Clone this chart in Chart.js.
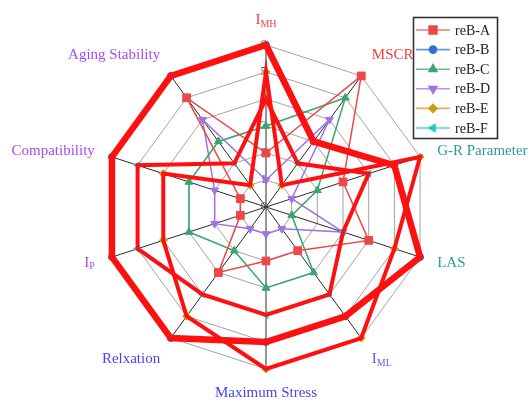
<!DOCTYPE html>
<html>
<head>
<meta charset="utf-8">
<script src="https://cdn.jsdelivr.net/npm/chart.js@4.4.0/dist/chart.umd.min.js"></script>
<style>
  html, body { margin: 0; padding: 0; background: #fff; }
  #wrap { width: 532px; height: 403px; }
</style>
</head>
<body>
<div id="wrap"><canvas id="radar_chart_canvas" width="532" height="403"></canvas></div>
<script>
// axes, clockwise from the top; text after "_" is set as a subscript
var categories = ["I_MH", "MSCR", "G-R Parameter", "LAS", "I_ML", "Maximum Stress", "Relxation", "I_P", "Compatibility", "Aging Stability"];
var tickValues = [0, 1, 2, 3, 4, 5, 6];

var seriesNames = ["reB-A", "reB-B", "reB-C", "reB-D", "reB-E", "reB-F"];
var reB_A = [2, 6, 3, 4, 2, 2, 3, 1, 1, 5];
var reB_B = [6, 3, 5, 6, 5, 5, 6, 6, 6, 6];
var reB_C = [3, 5, 2, 1, 3, 3, 2, 3, 3, 3];
var reB_D = [1, 4, 1, 3, 1, 1, 1, 2, 2, 4];
var reB_E = [5, 1, 6, 5, 6, 6, 5, 4, 4, 1];
var reB_F = [4, 2, 4, 3, 4, 4, 4, 5, 5, 2];

var labelColors = ["#f0403c", "#f0403c", "#2a9aa6", "#2a9aa6", "#6a55ee", "#4646ee", "#4646ee", "#a64cf0", "#a64cf0", "#a64cf0"];
var seriesColors = ["#ec4848", "#2f6fe0", "#3aa56c", "#a271e6", "#c9a015", "#22c6c8"];
var pointStyles = ["rect", "circle", "triangle", "triangle", "rectRot", "triangle"];
var pointRotations = [0, 0, 0, 180, 0, -90];
var pointSizes = [5.5, 3.5, 4.5, 4.5, 4, 4];
// B, E and F get a thick red outline drawn over them
var highlightWidths = [0, 6.5, 0, 0, 4, 4];

var seriesData = [reB_A, reB_B, reB_C, reB_D, reB_E, reB_F];
var SERIF = "'Liberation Serif', 'DejaVu Serif', serif";

function drawLabel(ctx, text, x, y, align, color) {
    var parts = text.split("_");
    ctx.font = "15px " + SERIF;
    var w1 = ctx.measureText(parts[0]).width;
    var w2 = 0;
    if (parts[1]) {
        ctx.font = "10px " + SERIF;
        w2 = ctx.measureText(parts[1]).width;
    }
    var total = w1 + w2;
    var x0 = align === "left" ? x : (align === "right" ? x - total : x - total / 2);
    ctx.fillStyle = color;
    ctx.textAlign = "left";
    ctx.textBaseline = "middle";
    ctx.font = "15px " + SERIF;
    ctx.fillText(parts[0], x0, y);
    if (parts[1]) {
        ctx.font = "10px " + SERIF;
        ctx.fillText(parts[1], x0 + w1, y + 4);
    }
}

var tickPlugin = {
    id: "tickLabels",
    beforeDatasetsDraw: function (chart) {
        var ctx = chart.ctx, scale = chart.scales.r;
        ctx.save();
        ctx.font = "13px " + SERIF;
        ctx.fillStyle = "#555";
        ctx.textAlign = "right";
        ctx.textBaseline = "middle";
        tickValues.forEach(function (v) {
            ctx.fillText(String(v), scale.xCenter + 1, scale.yCenter - scale.getDistanceFromCenterForValue(v));
        });
        ctx.restore();
    }
};

var highlightPlugin = {
    id: "highlight",
    afterDatasetsDraw: function (chart) {
        var ctx = chart.ctx;
        [4, 5, 1].forEach(function (i) {
            var pts = chart.getDatasetMeta(i).data;
            ctx.save();
            ctx.beginPath();
            pts.forEach(function (p, j) {
                if (j === 0) ctx.moveTo(p.x, p.y); else ctx.lineTo(p.x, p.y);
            });
            ctx.closePath();
            ctx.lineWidth = highlightWidths[i];
            ctx.lineJoin = "miter";
            ctx.strokeStyle = "#ff1010";
            ctx.stroke();
            ctx.restore();
        });
    }
};

var labelPlugin = {
    id: "axisLabels",
    afterDraw: function (chart) {
        var ctx = chart.ctx, scale = chart.scales.r;
        ctx.save();
        categories.forEach(function (name, i) {
            var p = scale.getPointPosition(i, scale.drawingArea + 18);
            var c = Math.cos(p.angle), s = Math.sin(p.angle);
            var align = c > 0.1 ? "left" : (c < -0.1 ? "right" : "center");
            var dy = Math.abs(s) > 0.5 ? (s > 0 ? 6.5 : -6.5) : 0;
            drawLabel(ctx, name, p.x, p.y + dy, align, labelColors[i]);
        });

        // boxed legend, top right
        var bx = 413.5, by = 17.5, bw = 84, bh = 121;
        ctx.fillStyle = "#fff";
        ctx.fillRect(bx, by, bw, bh);
        ctx.lineWidth = 1.6;
        ctx.strokeStyle = "#333";
        ctx.strokeRect(bx, by, bw, bh);
        seriesNames.forEach(function (name, i) {
            var y = 30 + i * 19.6;
            ctx.globalAlpha = 0.75;
            ctx.strokeStyle = seriesColors[i];
            ctx.lineWidth = 1.6;
            ctx.beginPath();
            ctx.moveTo(416, y);
            ctx.lineTo(450, y);
            ctx.stroke();
            ctx.globalAlpha = 1;
            ctx.fillStyle = seriesColors[i];
            ctx.strokeStyle = seriesColors[i];
            Chart.helpers.drawPoint(ctx, {
                pointStyle: pointStyles[i],
                rotation: pointRotations[i],
                radius: pointSizes[i],
                borderWidth: 1
            }, 433, y);
            ctx.fillStyle = "#222";
            ctx.font = "14px " + SERIF;
            ctx.textAlign = "left";
            ctx.textBaseline = "middle";
            ctx.fillText(name, 455, y + 1);
        });
        ctx.restore();
    }
};

var datasets = seriesNames.map(function (name, i) {
    return {
        label: name,
        data: seriesData[i],
        fill: false,
        borderColor: seriesColors[i],
        backgroundColor: seriesColors[i],
        borderWidth: 1.5,
        pointStyle: pointStyles[i],
        rotation: pointRotations[i],
        pointRadius: pointSizes[i],
        pointBorderWidth: 1,
        pointBackgroundColor: seriesColors[i],
        pointBorderColor: seriesColors[i],
        order: highlightWidths[i] ? 0 : 1
    };
});

window.myRadarChart = new Chart(document.getElementById("radar_chart_canvas").getContext("2d"), {
    type: "radar",
    data: {
        labels: categories,
        datasets: datasets
    },
    options: {
        responsive: false,
        animation: false,
        devicePixelRatio: 1,
        layout: {
            padding: { left: 104, right: 104, top: 45, bottom: 34 }
        },
        plugins: {
            legend: { display: false },
            title: { display: false },
            tooltip: { enabled: false }
        },
        scales: {
            r: {
                min: 0,
                max: 6,
                ticks: {
                    stepSize: 1,
                    display: false,
                    showLabelBackdrop: false
                },
                grid: { color: "#a3a3a3", lineWidth: 1 },
                angleLines: { color: "#2a2a2a", lineWidth: 1 },
                pointLabels: { display: false }
            }
        }
    },
    plugins: [tickPlugin, highlightPlugin, labelPlugin]
});
</script>
</body>
</html>
